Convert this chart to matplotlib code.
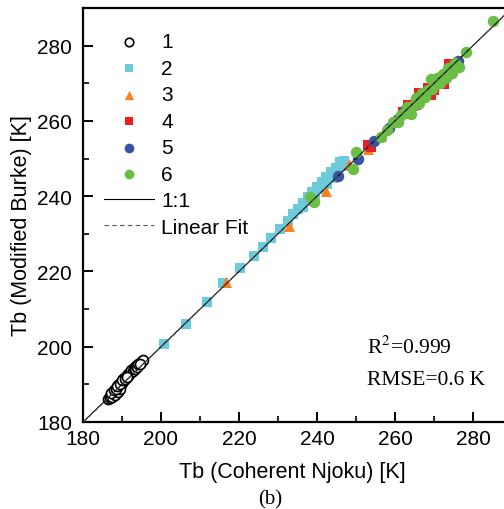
import matplotlib
matplotlib.use("Agg")
import matplotlib.pyplot as plt
import numpy as np

plt.rcParams['font.family'] = ['Liberation Sans', 'DejaVu Sans']
plt.rcParams['mathtext.fontset'] = 'stix'

# group 1 - open circles
x1 = [186.5, 186.8, 187.0, 187.3, 187.5, 187.8, 188.0, 188.2, 188.5, 188.7, 189.0, 189.2,
      189.5, 189.7, 190.0, 190.2, 190.5, 190.8, 191.0, 191.3, 191.6, 191.9, 192.2, 192.5,
      192.8, 193.1, 193.4, 193.7, 194.0, 194.3, 194.6, 195.0, 195.4, 187.5, 188.2, 188.9,
      189.5, 187.2, 187.9, 188.6, 190.6, 191.7, 192.9,
      189.1, 189.4, 189.9, 190.3, 190.9, 191.2, 191.5, 191.8, 192.1, 192.4, 192.7, 193.0,
      193.3, 193.6, 193.9, 194.2, 194.5, 188.4, 188.8, 189.6, 190.1, 190.7, 191.4]
y1 = [186.2, 186.4, 186.9, 187.0, 187.3, 187.4, 187.8, 188.1, 188.3, 188.7, 188.9, 189.3,
      189.7, 190.0, 190.4, 190.8, 191.1, 191.5, 191.9, 192.2, 192.6, 192.9, 193.3, 193.6,
      194.0, 194.3, 194.6, 194.9, 195.2, 195.5, 195.8, 196.1, 196.6, 186.6, 187.3, 188.0,
      188.7, 187.6, 188.5, 189.2, 191.7, 192.8, 194.2,
      189.8, 190.3, 190.6, 191.4, 191.8, 192.5, 192.3, 193.1, 193.0, 193.8, 193.5, 194.4,
      194.2, 195.0, 194.7, 195.4, 195.3, 188.8, 189.5, 190.2, 191.1, 191.3, 192.0]

# group 2 - cyan squares
x2 = [200.8, 206.4, 211.8, 216.0, 220.2, 223.8, 226.2, 228.3, 230.6, 232.5, 233.8, 235.0,
      236.3, 237.6, 238.8, 240.0, 241.2, 242.4, 243.6, 244.8, 245.8, 247.0,
      236.5, 238.0, 239.5, 241.0, 242.5, 244.0, 245.5, 247.0]
y2 = [200.7, 206.1, 211.9, 216.8, 220.9, 224.0, 226.6, 228.9, 231.3, 233.5, 235.2, 236.6,
      238.3, 239.8, 241.2, 242.5, 243.8, 245.0, 246.3, 247.5, 249.0, 249.3,
      237.0, 238.7, 240.3, 241.8, 243.3, 244.8, 246.3, 248.0]

# group 3 - orange triangles
x3 = [216.7, 232.8, 242.3, 248.2, 253.1, 256.4, 259.7, 262.5, 266.0, 270.0, 273.0]
y3 = [217.2, 232.1, 241.4, 248.5, 252.6, 256.0, 259.8, 262.0, 265.5, 269.5, 272.8]

# group 4 - red squares
x4 = [253.1, 253.8, 262.0, 263.3, 264.5, 266.2, 267.5, 268.5, 269.2, 270.5, 271.8, 272.6,
      273.8, 274.4, 275.5, 276.2, 265.5, 270.0]
y4 = [253.6, 253.2, 262.5, 264.2, 264.0, 267.3, 266.5, 268.8, 266.9, 270.5, 271.2, 269.8,
      275.2, 273.1, 274.6, 275.5, 264.2, 268.3]

# group 5 - blue circles
x5 = [245.5, 250.5, 254.6, 258.5, 260.8, 262.5, 265.5, 268.5, 271.0, 275.0, 276.2]
y5 = [245.3, 250.0, 254.6, 258.0, 260.6, 262.8, 265.7, 268.0, 271.3, 274.8, 275.8]

# group 6 - green circles
x6 = [238.3, 239.2, 249.2, 250.0, 256.4, 258.0, 259.5, 260.8, 261.5, 262.5, 263.2, 264.1,
      264.8, 265.5, 266.2, 267.0, 267.8, 268.5, 269.2, 269.5, 270.2, 270.8, 271.5, 272.3,
      273.0, 273.5, 274.5, 275.5, 276.3, 278.2, 285.1]
y6 = [239.9, 238.4, 247.2, 251.8, 255.8, 257.6, 259.8, 259.8, 261.5, 262.3, 263.8, 261.9,
      264.2, 266.0, 264.8, 267.5, 266.3, 268.2, 271.2, 268.5, 269.8, 271.5, 270.2, 272.5,
      271.5, 274.0, 272.8, 275.3, 274.2, 278.4, 286.6]

fit_slope = 1.002
fit_intercept = -0.5

fig = plt.figure(figsize=(5.04, 5.10), dpi=100)
ax = fig.add_axes([83/504, 87/510, 429/504, 414/510])

ax.scatter(x1, y1, s=52, facecolors='white', edgecolors='black', linewidths=1.2, label='1', zorder=3)
ax.scatter(x2, y2, s=44, marker='s', color='#6ccbdb', linewidths=0, label='2', zorder=3)
ax.scatter(x3, y3, s=62, marker='^', color='#f7821f', linewidths=0, label='3', zorder=3)
ax.scatter(x4, y4, s=52, marker='s', color='#ee1c25', linewidths=0, label='4', zorder=3)
ax.scatter(x5, y5, s=68, marker='o', color='#3a53a4', linewidths=0, label='5', zorder=3)
ax.scatter(x6, y6, s=68, marker='o', color='#6abd45', linewidths=0, label='6', zorder=3)

xx = np.array([180, 290])
ax.plot(xx, xx, color='black', lw=0.8, label='1:1', zorder=4)
ax.plot(xx, fit_slope * xx + fit_intercept, color='#555555', lw=0.8, ls=(0, (4, 3)),
        label='Linear Fit', zorder=4)

ax.set_xlim(180, 290)
ax.set_ylim(180, 290)
ax.set_xticks([180, 200, 220, 240, 260, 280])
ax.set_yticks([180, 200, 220, 240, 260, 280])
ax.set_xticks([190, 210, 230, 250, 270], minor=True)
ax.set_yticks([190, 210, 230, 250, 270], minor=True)
ax.tick_params(which='major', direction='in', length=7, width=1.4, labelsize=15)
ax.tick_params(which='minor', direction='in', length=4, width=1.2)
ax.tick_params(axis='x', which='major', pad=5)
ax.tick_params(axis='y', which='major', pad=8)
for sp in ax.spines.values():
    sp.set_linewidth(1.6)

ax.set_xlabel('Tb (Coherent Njoku) [K]', fontsize=15.5)
ax.set_ylabel('Tb (Modified Burke) [K]', fontsize=15.5)
ax.xaxis.set_label_coords(0.487, -0.095)
ax.yaxis.set_label_coords(-0.118, 0.478)

ax.text(252.8, 199.9, 'R$^{2}$=0.999', family='Liberation Serif', fontsize=15.5, va='center')
ax.text(252.8, 191.4, 'RMSE=0.6 K', family='Liberation Serif', fontsize=15.5, va='center')

leg = ax.legend(loc='upper left', bbox_to_anchor=(0.03, 0.962), frameon=False, fontsize=15,
                handlelength=2.4, handletextpad=0.35, labelspacing=0.36, borderaxespad=0,
                markerscale=0.85)

fig.text(270/504, 1 - 500/510, '(b)', family='Liberation Serif', fontsize=15, ha='center', va='center')

fig.savefig('out.png', dpi=100)
